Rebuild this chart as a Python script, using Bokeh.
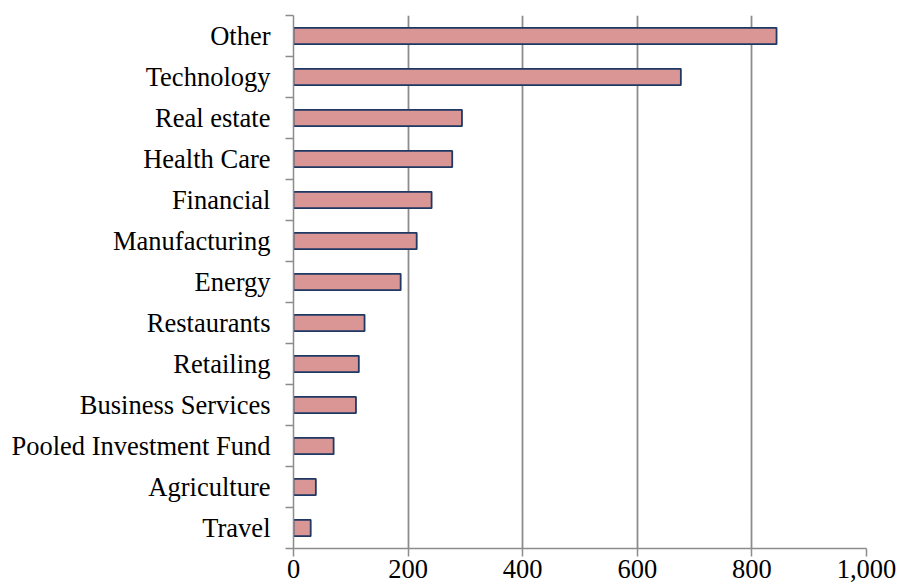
from bokeh.plotting import figure
from bokeh.models import ColumnDataSource, Range1d, FixedTicker, NumeralTickFormatter
from bokeh.embed import file_html
from bokeh.resources import INLINE

categories = ["Other", "Technology", "Real estate", "Health Care", "Financial",
              "Manufacturing", "Energy", "Restaurants", "Retailing",
              "Business Services", "Pooled Investment Fund", "Agriculture", "Travel"]
values = [843, 676, 294, 277, 241, 215, 187, 124, 114, 109, 70, 39, 30]
x_ticks = [0, 200, 400, 600, 800, 1000]

n = len(categories)
positions = [n - 1 - i for i in range(n)]  # top category first
source = ColumnDataSource(dict(cat=categories, val=values, pos=positions))

FONT = "Liberation Serif"
GRAY = "#8c8c8c"

p = figure(width=898, height=588, output_backend="svg", toolbar_location=None,
           x_range=Range1d(0, 1000), y_range=Range1d(-0.5, n - 0.5),
           min_border_left=293, min_border_right=32, min_border_top=15,
           min_border_bottom=40)
p.outline_line_color = None
p.background_fill_color = "white"
p.border_fill_color = "white"

p.hbar(y="pos", right="val", left=0, height=0.40, source=source,
       fill_color="#d99694", line_color="#1f3864", line_width=1.8)

# x axis
xa = p.xaxis[0]
xa.ticker = FixedTicker(ticks=x_ticks)
xa.formatter = NumeralTickFormatter(format="0,0")
xa.axis_line_color = GRAY
xa.axis_line_width = 1.5
xa.major_tick_line_color = GRAY
xa.major_tick_line_width = 1.5
xa.major_tick_out = 8
xa.major_tick_in = 0
xa.minor_tick_line_color = None
xa.major_label_standoff = 3
xa.major_label_text_font = FONT
xa.major_label_text_font_size = "26.5px"
xa.major_label_text_color = "black"

# y axis: labels at centres, ticks at category boundaries
ya = p.yaxis[0]
ya.ticker = FixedTicker(ticks=positions,
                        minor_ticks=[k - 0.5 for k in range(n + 1)])
ya.major_label_overrides = {pos: cat for pos, cat in zip(positions, categories)}
ya.axis_line_color = GRAY
ya.axis_line_width = 1.5
ya.major_tick_line_color = None
ya.major_tick_out = 0
ya.major_tick_in = 0
ya.minor_tick_line_color = GRAY
ya.minor_tick_line_width = 1.5
ya.minor_tick_out = 8
ya.minor_tick_in = 0
ya.major_label_standoff = 15
ya.major_label_text_font = FONT
ya.major_label_text_font_size = "26.5px"
ya.major_label_text_color = "black"

p.xgrid.ticker = FixedTicker(ticks=x_ticks)
p.xgrid.grid_line_color = GRAY
p.xgrid.grid_line_width = 1.8
p.ygrid.grid_line_color = None

open("out.html", "w").write(file_html(p, INLINE))
